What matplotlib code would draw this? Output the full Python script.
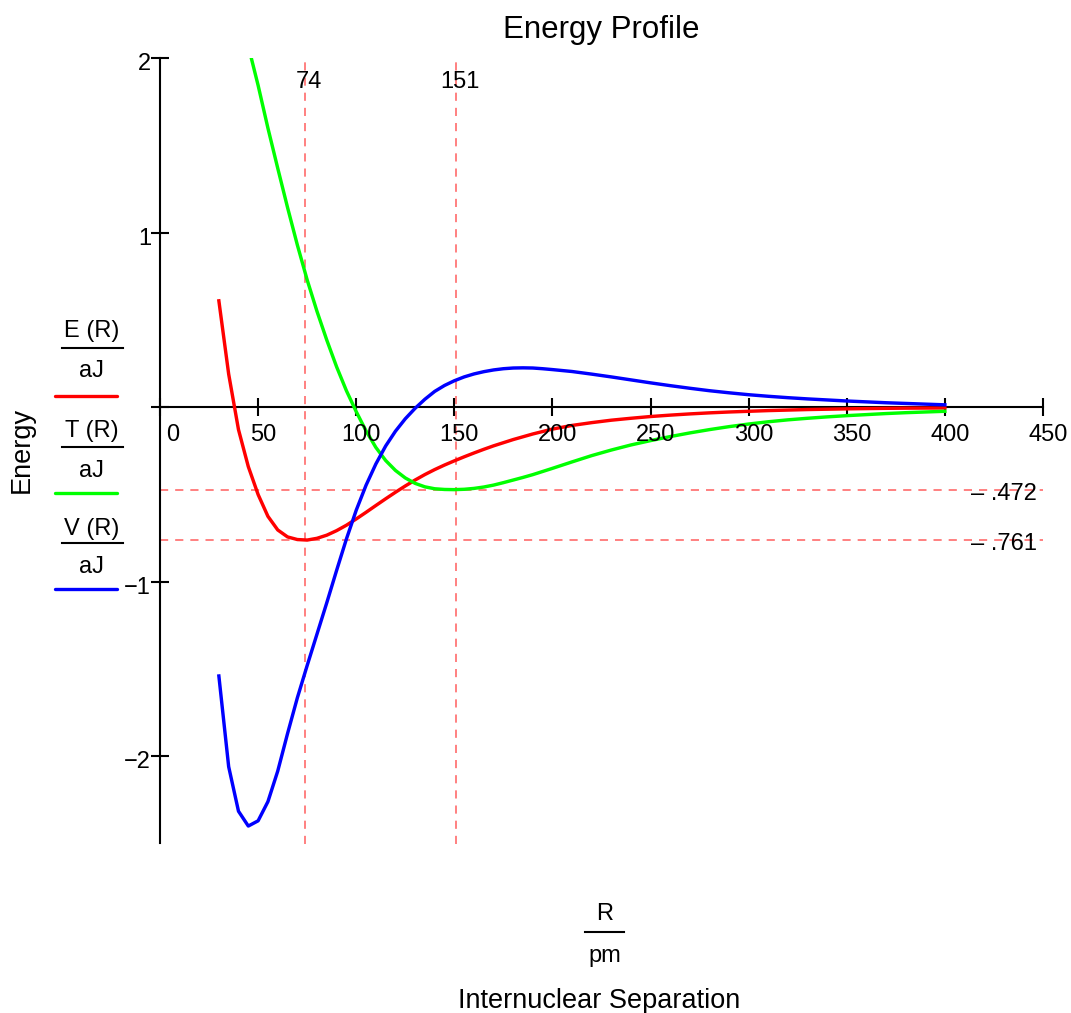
import matplotlib
matplotlib.use("Agg")
import matplotlib.pyplot as plt
import matplotlib.transforms as mtransforms
from matplotlib.lines import Line2D

plt.rcParams['font.family'] = ['Liberation Sans', 'DejaVu Sans']

# ---------------- data ----------------
R = [30, 35, 40, 45, 50, 55, 60, 65, 70, 75, 80, 85, 90, 95, 100, 105, 110, 115,
     120, 125, 130, 135, 140, 145, 150, 155, 160, 165, 170, 175, 180, 185, 190,
     195, 200, 210, 220, 230, 240, 250, 260, 270, 280, 290, 300, 310, 320, 330,
     340, 350, 360, 370, 380, 390, 400]
E = [0.61, 0.19, -0.128, -0.34, -0.50, -0.625, -0.703, -0.743, -0.758, -0.761,
     -0.751, -0.733, -0.707, -0.676, -0.640, -0.602, -0.563, -0.5245, -0.487,
     -0.451, -0.417, -0.3855, -0.357, -0.331, -0.307, -0.284, -0.262, -0.241,
     -0.221, -0.203, -0.185, -0.169, -0.153, -0.139, -0.125, -0.104, -0.088,
     -0.074, -0.063, -0.053, -0.045, -0.038, -0.032, -0.027, -0.023, -0.019,
     -0.016, -0.013, -0.011, -0.009, -0.0075, -0.006, -0.005, -0.0045, -0.004]
T = [2.15, 2.24, 2.19, 2.07, 1.845, 1.60, 1.37, 1.145, 0.93, 0.73, 0.55, 0.385,
     0.232, 0.095, -0.025, -0.135, -0.23, -0.305, -0.362, -0.405, -0.436, -0.456,
     -0.467, -0.471, -0.472, -0.470, -0.465, -0.457, -0.446, -0.432, -0.417,
     -0.402, -0.386, -0.368, -0.35, -0.313, -0.277, -0.245, -0.216, -0.191,
     -0.168, -0.147, -0.128, -0.111, -0.096, -0.083, -0.072, -0.063, -0.055,
     -0.048, -0.042, -0.036, -0.031, -0.027, -0.023]
V = [-1.54, -2.06, -2.315, -2.40, -2.37, -2.26, -2.085, -1.87, -1.665, -1.48,
     -1.30, -1.12, -0.935, -0.755, -0.59, -0.447, -0.325, -0.222, -0.137, -0.066,
     -0.006, 0.046, 0.091, 0.125, 0.152, 0.174, 0.191, 0.204, 0.214, 0.221,
     0.225, 0.226, 0.225, 0.221, 0.216, 0.205, 0.19, 0.174, 0.157, 0.14, 0.124,
     0.109, 0.095, 0.083, 0.072, 0.063, 0.055, 0.048, 0.042, 0.036, 0.031,
     0.026, 0.022, 0.018, 0.014]

R_marks = [74, 151]
E_marks = [-0.472, -0.761]
E_mark_labels = ['\u2013 .472', '\u2013 .761']

x_ticks = [0, 50, 100, 150, 200, 250, 300, 350, 400, 450]
x_tick_labels = ['0', '50', '100', '150', '200', '250', '300', '350', '400', '450']
y_ticks = [-2, -1, 0, 1, 2]
y_tick_labels = ['\u22122', '\u22121', '', '1', '2']

W, H = 1071, 1013
fig = plt.figure(figsize=(W / 100, H / 100), dpi=100)

# axes placed so that x 0..450 -> px 160..1043, y 2..-2.5 -> px 58.3..843.5
left, right, top, bottom = 160, 1043, 58.3, 843.5
ax = fig.add_axes([left / W, 1 - bottom / H, (right - left) / W, (bottom - top) / H])
ax.set_xlim(0, 450)
ax.set_ylim(-2.5, 2)
ax.patch.set_visible(False)

for s in ['top', 'right']:
    ax.spines[s].set_visible(False)
ax.spines['bottom'].set_position(('data', 0))
ax.spines['left'].set_position(('data', 0))
for s in ['bottom', 'left']:
    ax.spines[s].set_linewidth(1.5)
    ax.spines[s].set_color('black')

ax.set_xticks(x_ticks)
ax.set_yticks(y_ticks)
ax.set_xticklabels([])
ax.set_yticklabels([])
ax.tick_params(direction='inout', length=12.5, width=1.5, color='black')

# reference lines
dash_kw = dict(color='#ff8080', lw=1.4, dashes=(4.2, 3.6), zorder=1)
for r in R_marks:
    ax.axvline(r, **dash_kw)
for e in E_marks:
    ax.axhline(e, **dash_kw)

# curves
curve_lw = 2.45
ax.plot(R, E, color='#ff0000', lw=curve_lw, zorder=3)
ax.plot(R, T, color='#00ff00', lw=curve_lw, zorder=3)
ax.plot(R, V, color='#0000ff', lw=curve_lw, zorder=4)

tick_fs = 17

def off(dx, dy):
    return mtransforms.offset_copy(ax.transData, fig=fig, x=dx, y=dy, units='dots')

# x tick labels (baseline ~33 px below axis)
for t, lab in zip(x_ticks, x_tick_labels):
    dx = 12.5 if t == 0 else 5
    ax.text(t, 0, lab, transform=off(dx, -33.3), ha='center', va='baseline',
            fontsize=tick_fs, clip_on=False)

# y tick labels
for t, lab in zip(y_ticks, y_tick_labels):
    if lab:
        ax.text(0, t, lab, transform=off(-9, -12), ha='right', va='baseline',
                fontsize=tick_fs, clip_on=False)

# marker labels
for r in R_marks:
    ax.text(r, 2, str(r), transform=off(3.5, -30), ha='center', va='baseline',
            fontsize=tick_fs, clip_on=False)
for e, lab in zip(E_marks, E_mark_labels):
    ax.text(450, e, lab, transform=off(-6, -10), ha='right', va='baseline',
            fontsize=tick_fs, clip_on=False)

# ---- figure-level text (pixel positions) ----
def fx(px):
    return px / W

def fy(py):
    return 1 - py / H

fig.text(fx(600.8), fy(37.7), 'Energy Profile', ha='center', va='baseline', fontsize=22.5)
fig.text(fx(21.7), fy(450), 'Energy', ha='center', va='center', rotation=90, fontsize=19.5)

# x-axis label as fraction R / pm
fig.text(fx(604.5), fy(920), 'R', ha='center', va='baseline', fontsize=17)
fig.add_artist(Line2D([fx(585), fx(624)], [fy(931.7), fy(931.7)], color='black', lw=1.5))
fig.text(fx(604.5), fy(961.7), 'pm', ha='center', va='baseline', fontsize=17)
fig.text(fx(599), fy(1008.3), 'Internuclear Separation', ha='center', va='baseline', fontsize=19.5)

# left legend: E(R)/aJ, T(R)/aJ, V(R)/aJ
legend_names = ['E(R)', 'T(R)', 'V(R)']
legend_colors = ['#ff0000', '#00ff00', '#0000ff']
name_base = [337.3, 436.7, 535.0]
bar_y = [347.7, 447.3, 543.3]
unit_base = [377.3, 476.7, 573.3]
line_y = [396.0, 493.3, 589.3]
for nm, c, nb, by, ub, ly in zip(legend_names, legend_colors, name_base, bar_y, unit_base, line_y):
    fig.text(fx(91.5), fy(nb), nm.replace('(', ' ('), ha='center', va='baseline', fontsize=17)
    fig.add_artist(Line2D([fx(61.7), fx(122.7)], [fy(by), fy(by)], color='black', lw=1.5))
    fig.text(fx(91.5), fy(ub), 'aJ', ha='center', va='baseline', fontsize=17)
    fig.add_artist(Line2D([fx(55), fx(116.7)], [fy(ly), fy(ly)], color=c, lw=2.4,
                          solid_capstyle='round'))

fig.savefig('out.png', dpi=100)
